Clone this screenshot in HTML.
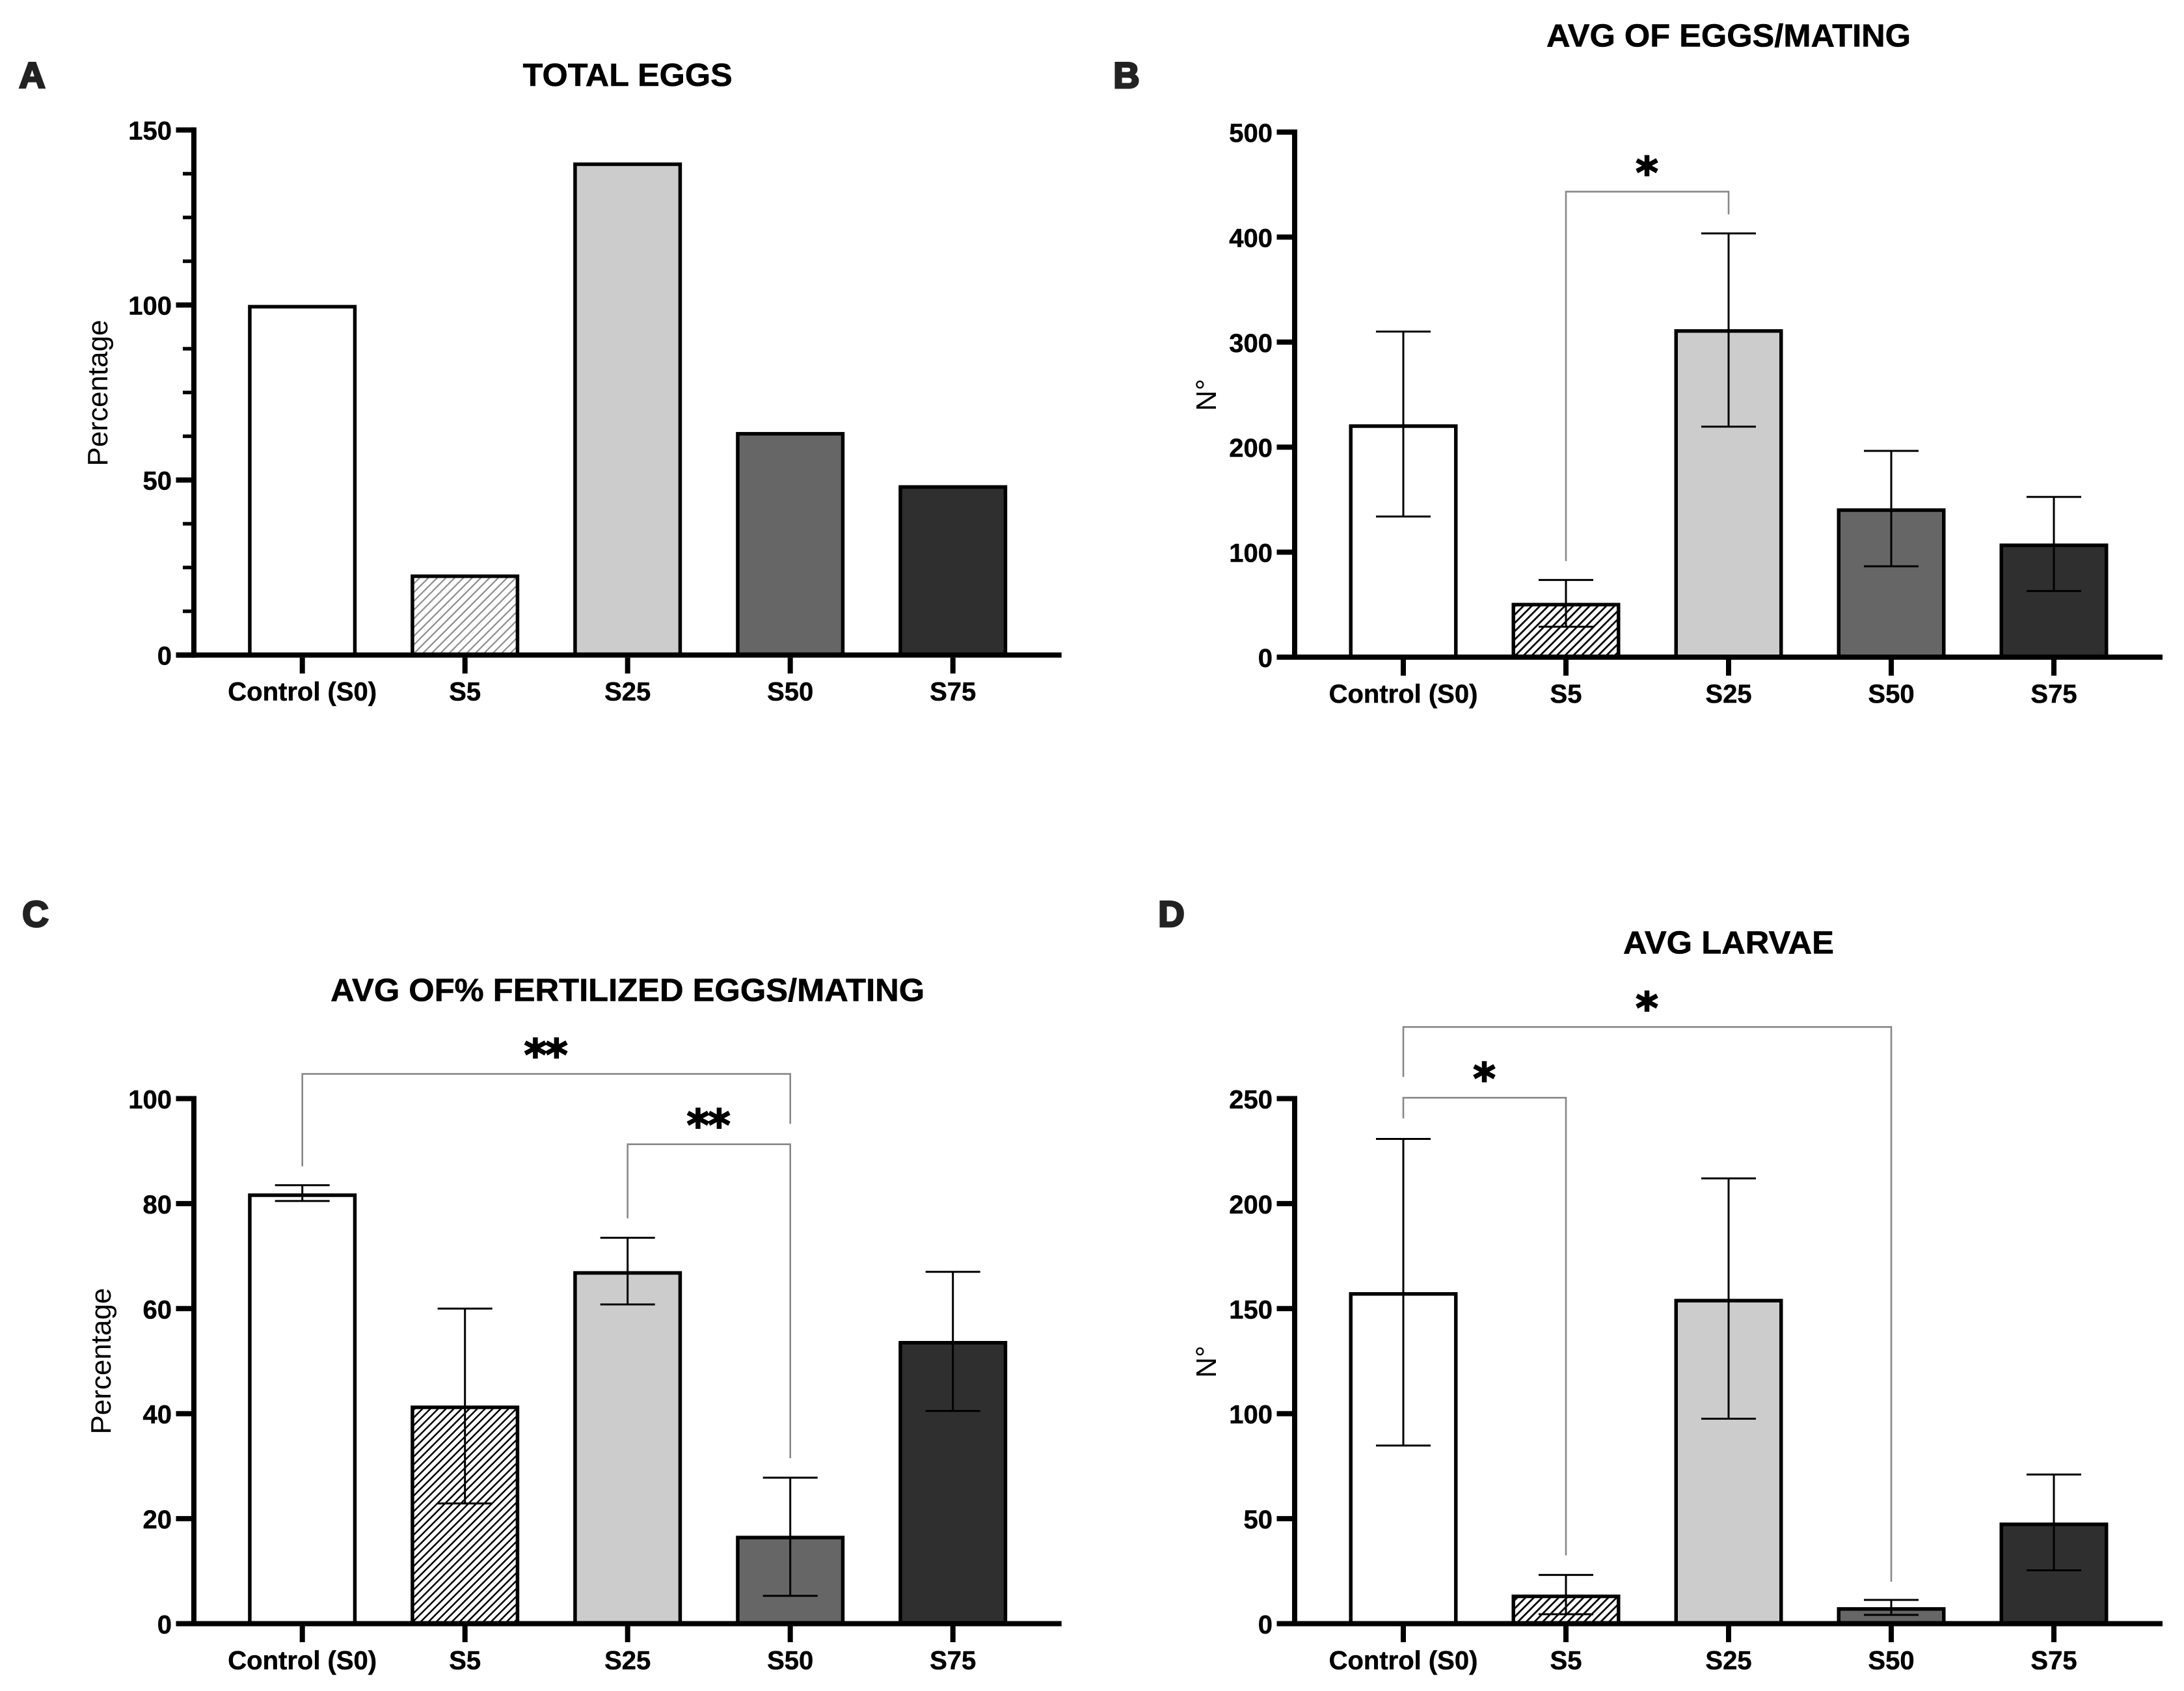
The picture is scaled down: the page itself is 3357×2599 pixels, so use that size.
<!DOCTYPE html>
<html lang="en">
<head>
<meta charset="utf-8">
<title>Egg and larvae bar charts</title>
<style>
html,body{margin:0;padding:0;background:#fff;}
body{width:3357px;height:2599px;overflow:hidden;}
svg{display:block;}
text{font-family:"Liberation Sans",Arial,sans-serif;fill:#000;}
</style>
</head>
<body>
<svg id="figure" xmlns="http://www.w3.org/2000/svg" width="3357" height="2599" viewBox="0 0 3357 2599">
  <defs>
    <pattern id="hatch-a" patternUnits="userSpaceOnUse" width="9.5" height="9.5" patternTransform="rotate(45)">
      <line x1="0" y1="0" x2="0" y2="9.5" stroke="#8c8c8c" stroke-width="4.4"/>
    </pattern>
    <pattern id="hatch-b" patternUnits="userSpaceOnUse" width="9" height="9" patternTransform="rotate(45)">
      <line x1="0" y1="0" x2="0" y2="9" stroke="#000" stroke-width="5.5"/>
    </pattern>
    <pattern id="hatch-c" patternUnits="userSpaceOnUse" width="8.5" height="8.5" patternTransform="rotate(45)">
      <line x1="0" y1="0" x2="0" y2="8.5" stroke="#000" stroke-width="5"/>
    </pattern>
    <pattern id="hatch-d" patternUnits="userSpaceOnUse" width="9" height="9" patternTransform="rotate(45)">
      <line x1="0" y1="0" x2="0" y2="9" stroke="#000" stroke-width="5.5"/>
    </pattern>
  </defs>
  <text x="49.5" y="135" text-anchor="middle" font-size="56" font-weight="700" style="fill:#222;stroke:#222;stroke-width:3px">A</text>
  <text x="1731.5" y="135" text-anchor="middle" font-size="56" font-weight="700" style="fill:#222;stroke:#222;stroke-width:3px">B</text>
  <text x="54.5" y="1424" text-anchor="middle" font-size="56" font-weight="700" style="fill:#222;stroke:#222;stroke-width:3px">C</text>
  <text x="1800.5" y="1424" text-anchor="middle" font-size="56" font-weight="700" style="fill:#222;stroke:#222;stroke-width:3px">D</text>
</svg>
<script>
const categories = ['Control (S0)', 'S5', 'S25', 'S50', 'S75'];

const panelATicks = ['0', '50', '100', '150'];
const panelAValues = [99.5, 22.5, 140.2, 63.2, 48];

const panelBTicks = ['0', '100', '200', '300', '400', '500'];
const panelBValues = [220, 50, 310.6, 140, 106.5];
const panelBErrHigh = [310, 73.5, 403.5, 196.4, 152.6];
const panelBErrLow = [133.9, 29, 219.5, 86.5, 63];

const panelCTicks = ['0', '20', '40', '60', '80', '100'];
const panelCValues = [81.6, 41.2, 66.8, 16.4, 53.5];
const panelCErrHigh = [83.5, 60, 73.5, 27.8, 67];
const panelCErrLow = [80.5, 22.9, 60.8, 5.3, 40.5];

const panelDTicks = ['0', '50', '100', '150', '200', '250'];
const panelDValues = [157, 13, 153.8, 7, 47.3];
const panelDErrHigh = [230.8, 23.2, 212, 11.3, 71];
const panelDErrLow = [84.8, 4.5, 97.6, 4.2, 25.4];

const NS = 'http://www.w3.org/2000/svg';
const root = document.getElementById('figure');

function make(parent, tag, attrs) {
  const el = document.createElementNS(NS, tag);
  for (const k in attrs) el.setAttribute(k, attrs[k]);
  parent.appendChild(el);
  return el;
}

function drawPanel(p) {
  const group = make(root, 'g', {});
  
  

  const xScale = function (i) { return p.firstX + i * 250; };
  const yScale = function (v) { return p.baseY - (v / p.maxValue) * 807; };
  const fills = ['#fff', 'url(#hatch-' + p.id + ')', '#ccc', '#666', '#2f2f2f'];

  categories.forEach(function (cat, i) {
    const y = yScale(p.values[i]);
    const bar = make(group, 'rect', {
      x: xScale(i) - 80.75, y: y, width: 161.5, height: p.baseY - y,
      fill: fills[i], stroke: '#000', 'stroke-width': 5.5
    });
    
    
  });

  if (p.high) {
    categories.forEach(function (cat, i) {
      const x = xScale(i);
      const yHi = yScale(p.high[i]);
      const yLo = yScale(p.low[i]);
      const err = make(group, 'path', {
        d: 'M' + (x - 42) + ' ' + yHi + 'H' + (x + 42) + 'M' + x + ' ' + yHi + 'V' + yLo + 'M' + (x - 42) + ' ' + yLo + 'H' + (x + 42),
        fill: 'none', stroke: '#000', 'stroke-width': 3
      });
      
      
    });
  }

  const yAxis = make(group, 'line', {
    x1: p.axisX, x2: p.axisX, y1: p.baseY - 811, y2: p.baseY + 4, stroke: '#000', 'stroke-width': 8
  });
  
  

  const xAxis = make(group, 'line', {
    x1: p.axisX - 27.5, x2: p.firstX + 1167, y1: p.baseY, y2: p.baseY, stroke: '#000', 'stroke-width': 8
  });
  
  

  p.ticks.forEach(function (label) {
    const y = yScale(Number(label));
    const tick = make(group, 'line', {
      x1: p.axisX - 27.5, x2: p.axisX, y1: y, y2: y, stroke: '#000', 'stroke-width': 8
    });
    
    
    const t = make(group, 'text', {
      x: p.axisX - 34, y: y + 15, 'text-anchor': 'end', 'font-size': 40, 'font-weight': 700
    });
    t.style.stroke = '#000';
    t.style.strokeWidth = '0.5px';
    t.textContent = label;
    
    
  });

  if (p.minorStep) {
    for (let v = p.minorStep; v < p.maxValue; v += p.minorStep) {
      if (v % 50 === 0) continue;
      const y = yScale(v);
      const minor = make(group, 'line', {
        x1: p.axisX - 17, x2: p.axisX, y1: y, y2: y, stroke: '#000', 'stroke-width': 5.5
      });
      
      
    }
  }

  categories.forEach(function (cat, i) {
    const x = xScale(i);
    const tick = make(group, 'line', {
      x1: x, x2: x, y1: p.baseY + 4, y2: p.baseY + 28.5, stroke: '#000', 'stroke-width': 8
    });
    
    
    const t = make(group, 'text', {
      x: x, y: p.baseY + 70, 'text-anchor': 'middle', 'font-size': 40, 'font-weight': 700
    });
    t.style.stroke = '#000';
    t.style.strokeWidth = '0.5px';
    t.textContent = cat;
    
    
  });

  const title = make(group, 'text', {
    x: p.firstX + 500, y: p.titleY, 'text-anchor': 'middle', 'font-size': 49, 'font-weight': 700,
    textLength: p.titleLen, lengthAdjust: 'spacingAndGlyphs'
  });
  title.style.stroke = '#000';
  title.style.strokeWidth = '0.6px';
  title.textContent = p.title;
  
  

  const yt = make(group, 'text', {
    x: 0, y: 0, 'text-anchor': 'middle', 'font-size': 44,
    transform: 'translate(' + p.yTitleX + ' ' + p.yTitleY + ') rotate(-90)'
  });
  yt.textContent = p.yTitle;
  
  

  (p.brackets || []).forEach(function (b) {
    const x1 = xScale(b.from);
    const x2 = xScale(b.to);
    const top = yScale(b.top);
    const br = make(group, 'path', {
      d: 'M' + x1 + ' ' + yScale(b.leftEnd) + 'V' + top + 'H' + x2 + 'V' + yScale(b.rightEnd),
      fill: 'none', stroke: '#888', 'stroke-width': 2.6
    });
    
    
    const s = make(group, 'text', {
      x: (x1 + x2) / 2 - 1.5, y: top - 6, 'text-anchor': 'middle', 'font-size': 66, 'font-weight': 700,
      'letter-spacing': '-2'
    });
    s.style.fontFamily = '"DejaVu Sans", sans-serif';
    s.style.stroke = '#000';
    s.style.strokeWidth = '2px';
    s.textContent = b.label;
    
    
  });
}

drawPanel({
  id: 'a', firstX: 464.7, axisX: 298, baseY: 1006.7, maxValue: 150, minorStep: 12.5,
  ticks: panelATicks, values: panelAValues,
  title: 'TOTAL EGGS', titleY: 132, titleLen: 322,
  yTitle: 'Percentage', yTitleX: 165, yTitleY: 604
});
drawPanel({
  id: 'b', firstX: 2157, axisX: 1990, baseY: 1010, maxValue: 500,
  ticks: panelBTicks, values: panelBValues, high: panelBErrHigh, low: panelBErrLow,
  title: 'AVG OF EGGS/MATING', titleY: 71.5, titleLen: 560,
  yTitle: 'N°', yTitleX: 1869, yTitleY: 607,
  brackets: [{ from: 1, to: 2, top: 443.3, leftEnd: 91.5, rightEnd: 421.6, label: '*' }]
});
drawPanel({
  id: 'c', firstX: 464.7, axisX: 298, baseY: 2495.5, maxValue: 100,
  ticks: panelCTicks, values: panelCValues, high: panelCErrHigh, low: panelCErrLow,
  title: 'AVG OF% FERTILIZED EGGS/MATING', titleY: 1538.5, titleLen: 913,
  yTitle: 'Percentage', yTitleX: 170, yTitleY: 2092,
  brackets: [
    { from: 0, to: 3, top: 104.7, leftEnd: 87.1, rightEnd: 95.2, label: '**' },
    { from: 2, to: 3, top: 91.3, leftEnd: 77.2, rightEnd: 31.5, label: '**' }
  ]
});
drawPanel({
  id: 'd', firstX: 2157, axisX: 1990, baseY: 2495.5, maxValue: 250,
  ticks: panelDTicks, values: panelDValues, high: panelDErrHigh, low: panelDErrLow,
  title: 'AVG LARVAE', titleY: 1465.5, titleLen: 324,
  yTitle: 'N°', yTitleX: 1869, yTitleY: 2093,
  brackets: [
    { from: 0, to: 3, top: 284.1, leftEnd: 260.3, rightEnd: 20, label: '*' },
    { from: 0, to: 1, top: 250.4, leftEnd: 240.6, rightEnd: 32.5, label: '*' }
  ]
});
</script>
</body>
</html>
